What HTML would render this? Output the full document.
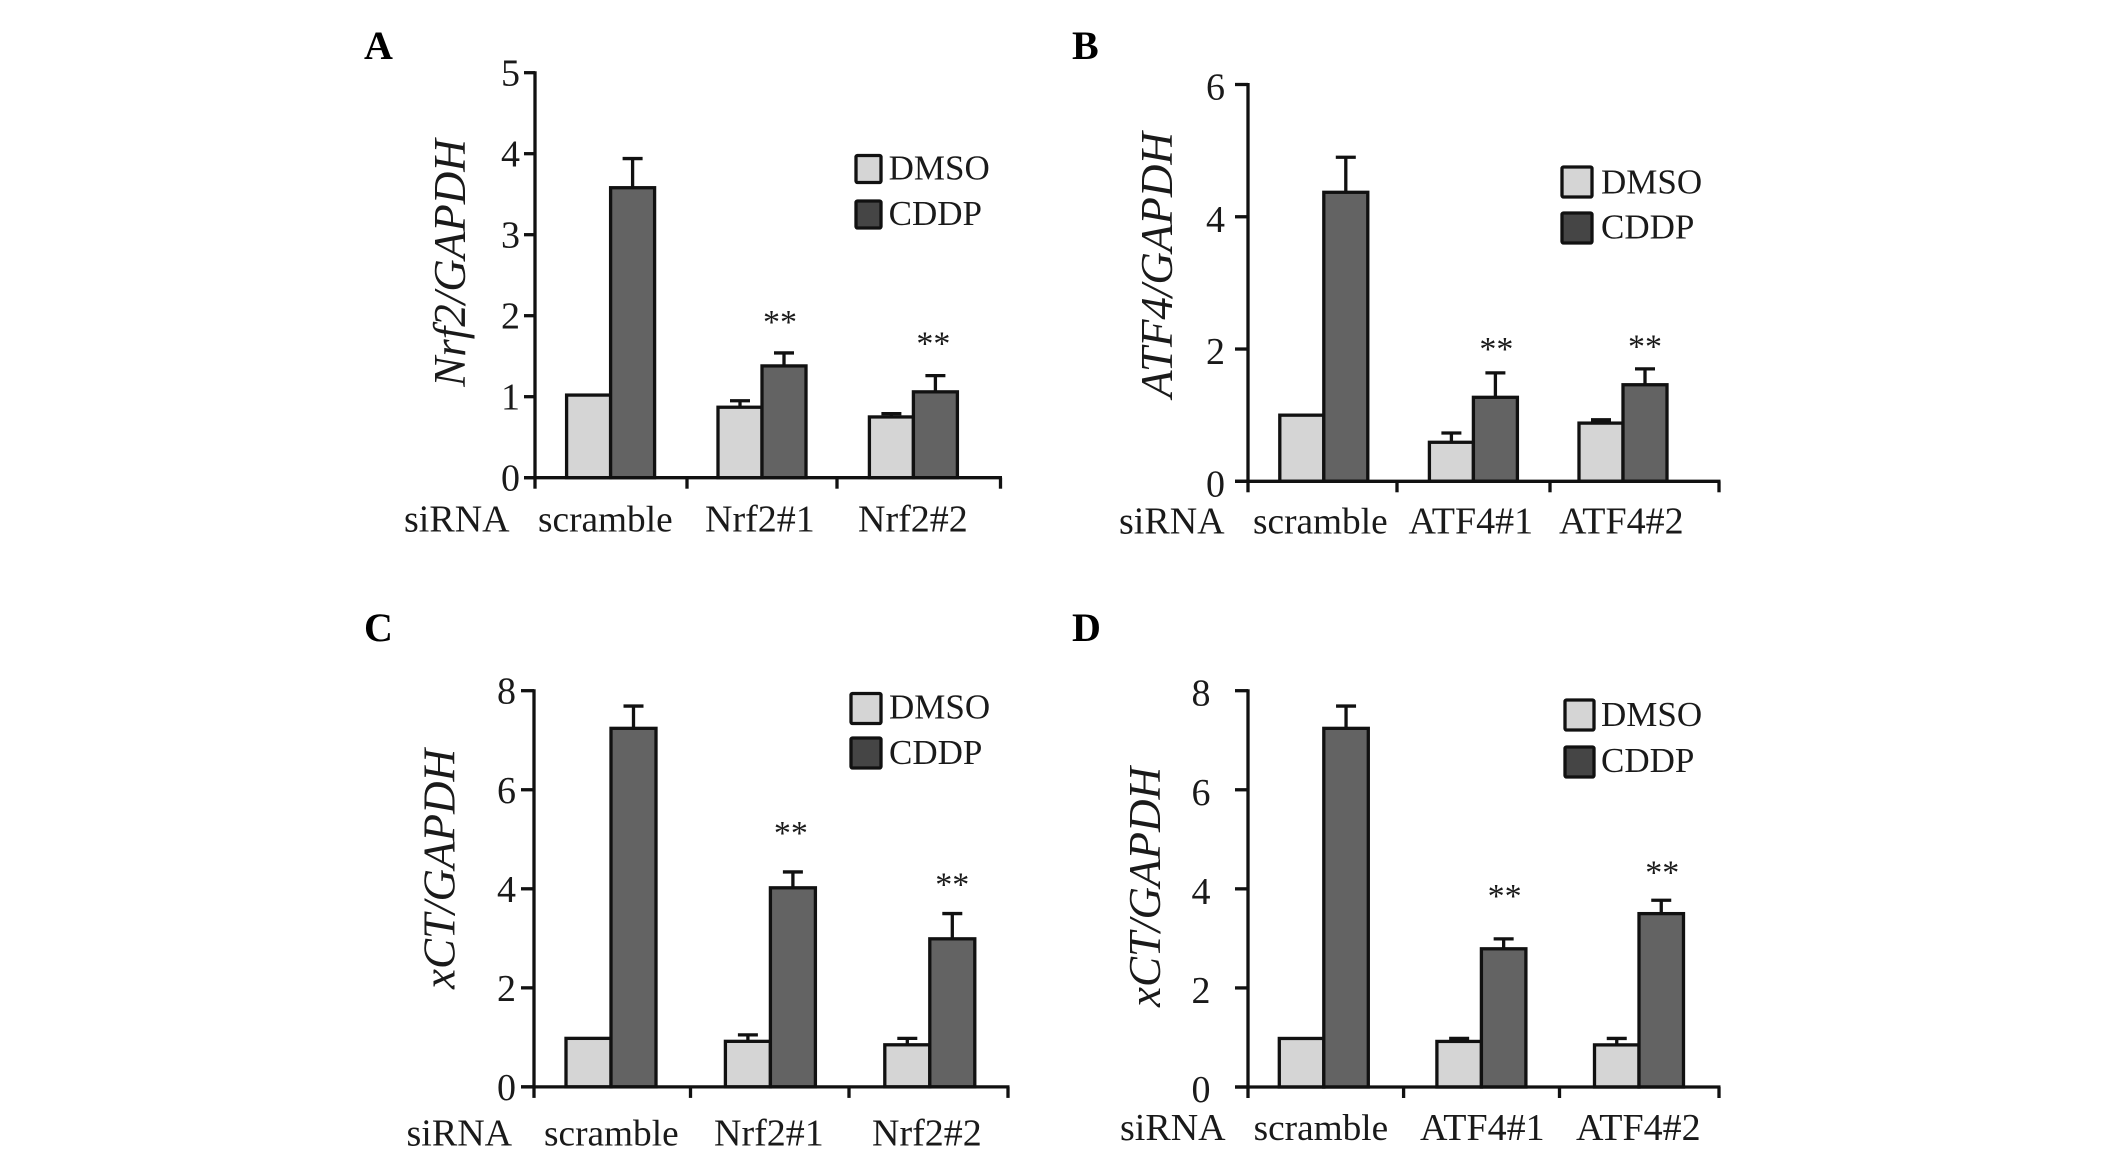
<!DOCTYPE html>
<html lang="en">
<head>
<meta charset="utf-8">
<title>siRNA knockdown bar charts</title>
<style>
html,body{margin:0;padding:0;background:#fff;}
svg{display:block;font-family:"Liberation Serif","Times New Roman",serif;fill:#1a1a1a;}
</style>
</head>
<body>
<svg id="figure" width="2126" height="1154" viewBox="0 0 2126 1154" xmlns="http://www.w3.org/2000/svg"></svg>
<script>
const seriesNames = ['DMSO', 'CDDP'];

const categoriesA = ['scramble', 'Nrf2#1', 'Nrf2#2'];
const ticksA = [0, 1, 2, 3, 4, 5];
const dmsoA = [1.02, 0.87, 0.75];
const cddpA = [3.58, 1.38, 1.06];
const dmsoTopA = [null, 0.95, 0.79];
const cddpTopA = [3.94, 1.54, 1.26];
const sigLevelA = [null, 1.9, 1.63];

const categoriesB = ['scramble', 'ATF4#1', 'ATF4#2'];
const ticksB = [0, 2, 4, 6];
const dmsoB = [1.0, 0.59, 0.88];
const cddpB = [4.37, 1.27, 1.46];
const dmsoTopB = [null, 0.73, 0.93];
const cddpTopB = [4.9, 1.64, 1.7];
const sigLevelB = [null, 1.97, 2.01];

const categoriesC = ['scramble', 'Nrf2#1', 'Nrf2#2'];
const ticksC = [0, 2, 4, 6, 8];
const dmsoC = [0.98, 0.92, 0.85];
const cddpC = [7.24, 4.02, 2.99];
const dmsoTopC = [null, 1.05, 0.98];
const cddpTopC = [7.69, 4.34, 3.5];
const sigLevelC = [null, 5.09, 4.05];

const categoriesD = ['scramble', 'ATF4#1', 'ATF4#2'];
const ticksD = [0, 2, 4, 6, 8];
const dmsoD = [0.98, 0.92, 0.85];
const cddpD = [7.24, 2.79, 3.5];
const dmsoTopD = [null, 0.98, 0.98];
const cddpTopD = [7.69, 2.99, 3.77];
const sigLevelD = [null, 3.82, 4.29];

const SVGNS = 'http://www.w3.org/2000/svg';
const root = document.getElementById('figure');
const INK = '#111111';
const LINE = 3.3;

function make(tag, attrs, parent) {
  const node = document.createElementNS(SVGNS, tag);
  for (const key in attrs) node.setAttribute(key, attrs[key]);
  parent.appendChild(node);
  return node;
}

function drawPanel(p) {
  const group = make('g', {}, root);
  
  

  const yMax = p.ticks[p.ticks.length - 1];
  const yScale = v => p.y0 - (v / yMax) * (p.y0 - p.yTop);
  const pairCenter = i => p.pairFirst + p.pairStep * i;

  // panel letter
  const letter = make('text', {x: p.letterX, y: p.letterY, 'font-size': 40, 'font-weight': 'bold', fill: '#000'}, group);
  letter.textContent = p.letter;
  
  

  // y axis title
  const yt = make('text', {
    transform: 'translate(' + p.yTitleX + ',' + p.yTitleY + ') rotate(-90)',
    'text-anchor': 'middle', 'font-size': 45, 'font-style': 'italic'
  }, group);
  yt.textContent = p.yTitle;
  
  

  // bars and error bars
  const drawSeries = (values, tops, side, fill, label) => {
    values.forEach((v, i) => {
      const cx = pairCenter(i);
      const x = side === 0 ? cx - p.barW : cx;
      const mid = x + p.barW / 2;
      if (tops[i] !== null) {
        const stem = make('line', {x1: mid, x2: mid, y1: yScale(v), y2: yScale(tops[i]), stroke: INK, 'stroke-width': LINE}, group);
        
        
        const cap = make('line', {x1: mid - 10, x2: mid + 10, y1: yScale(tops[i]), y2: yScale(tops[i]), stroke: INK, 'stroke-width': LINE}, group);
        
        
      }
      const bar = make('rect', {x: x, y: yScale(v), width: p.barW, height: p.y0 - yScale(v), fill: fill, stroke: INK, 'stroke-width': LINE}, group);
      
      
    });
  };
  drawSeries(p.dmso, p.dmsoTop, 0, '#d5d5d5', 'dmso');
  drawSeries(p.cddp, p.cddpTop, 1, '#636363', 'cddp');

  // significance marks
  p.sig.forEach((level, i) => {
    if (level === null) return;
    const s = make('text', {x: pairCenter(i) + p.barW / 2 - 2 + p.starNudge[i], y: yScale(level) + 9, 'text-anchor': 'middle', 'font-size': 34}, group);
    s.textContent = '**';
    
    
  });

  // y axis
  const yAxis = make('line', {x1: p.axisX, x2: p.axisX, y1: p.yTop - 1.5, y2: p.y0 + 1.5, stroke: INK, 'stroke-width': LINE}, group);
  
  
  p.ticks.forEach(t => {
    const mark = make('line', {x1: p.axisX - p.tickLen, x2: p.axisX, y1: yScale(t), y2: yScale(t), stroke: INK, 'stroke-width': LINE}, group);
    
    
    const lab = make('text', {x: p.tickRight, y: yScale(t) + p.tickDy, 'text-anchor': 'end', 'font-size': 38}, group);
    lab.textContent = String(t);
    
    
  });

  // x axis
  const xAxis = make('line', {x1: p.axisX - p.tickLen, x2: p.xEdges[p.xEdges.length - 1] + 1.5, y1: p.y0, y2: p.y0, stroke: INK, 'stroke-width': LINE}, group);
  
  
  p.xEdges.forEach(x => {
    const mark = make('line', {x1: x, x2: x, y1: p.y0, y2: p.y0 + 11, stroke: INK, 'stroke-width': LINE}, group);
    
    
  });
  const si = make('text', {x: p.siRnaX, y: p.labelY, 'font-size': 38}, group);
  si.textContent = 'siRNA';
  
  
  p.categories.forEach((c, i) => {
    const lab = make('text', {x: p.labelX[i], y: p.labelY, 'font-size': i === 0 ? 37.3 : 38}, group);
    lab.textContent = c;
    
    
  });

  // legend
  seriesNames.forEach((name, i) => {
    const box = make('rect', {
      x: p.legX, y: p.legY[i], width: p.legW, height: p.legH,
      fill: i === 0 ? '#d5d5d5' : '#454545', stroke: INK, 'stroke-width': LINE, rx: 1.5
    }, group);
    
    
    const txt = make('text', {x: p.legTextX, y: p.legTextY[i], 'font-size': 35}, group);
    txt.textContent = name;
    
    
  });
}

drawPanel({
  letter: 'A', letterX: 364, letterY: 59, yTitle: 'Nrf2/GAPDH', yTitleX: 465, yTitleY: 263,
  categories: categoriesA, ticks: ticksA, dmso: dmsoA, cddp: cddpA, dmsoTop: dmsoTopA, cddpTop: cddpTopA, sig: sigLevelA,
  axisX: 535, yTop: 72.7, y0: 477.7, tickLen: 11, tickRight: 520, tickDy: 13, starNudge: [0, -2, 0],
  xEdges: [535, 687, 837, 1000.5], pairFirst: 610.6, pairStep: 151.4, barW: 44,
  siRnaX: 404, labelX: [538, 705, 858], labelY: 531.4,
  legX: 856, legW: 25, legH: 27, legY: [155.5, 201], legTextX: 888.6, legTextY: [179.5, 225]
});
drawPanel({
  letter: 'B', letterX: 1072, letterY: 59, yTitle: 'ATF4/GAPDH', yTitleX: 1172, yTitleY: 265,
  categories: categoriesB, ticks: ticksB, dmso: dmsoB, cddp: cddpB, dmsoTop: dmsoTopB, cddpTop: cddpTopB, sig: sigLevelB,
  axisX: 1248, yTop: 84.5, y0: 481.3, tickLen: 13, tickRight: 1225, tickDy: 15, starNudge: [0, 3, 2],
  xEdges: [1248, 1397, 1550, 1719], pairFirst: 1323.8, pairStep: 149.6, barW: 44,
  siRnaX: 1119, labelX: [1253, 1408.5, 1559], labelY: 533.4,
  legX: 1562, legW: 30, legH: 30, legY: [167, 213], legTextX: 1601, legTextY: [193.5, 238.6]
});
drawPanel({
  letter: 'C', letterX: 364, letterY: 641, yTitle: 'xCT/GAPDH', yTitleX: 454.7, yTitleY: 869,
  categories: categoriesC, ticks: ticksC, dmso: dmsoC, cddp: cddpC, dmsoTop: dmsoTopC, cddpTop: cddpTopC, sig: sigLevelC,
  axisX: 534, yTop: 690.7, y0: 1086.9, tickLen: 13, tickRight: 516, tickDy: 13, starNudge: [0, 0, 2],
  xEdges: [534, 690.5, 849, 1008], pairFirst: 611, pairStep: 159.4, barW: 45,
  siRnaX: 406.5, labelX: [544, 714, 872], labelY: 1145.4,
  legX: 851, legW: 30, legH: 30, legY: [693.5, 738], legTextX: 889, legTextY: [718.5, 763.8]
});
drawPanel({
  letter: 'D', letterX: 1072, letterY: 641, yTitle: 'xCT/GAPDH', yTitleX: 1160, yTitleY: 887,
  categories: categoriesD, ticks: ticksD, dmso: dmsoD, cddp: cddpD, dmsoTop: dmsoTopD, cddpTop: cddpTopD, sig: sigLevelD,
  axisX: 1248, yTop: 690.7, y0: 1087, tickLen: 13, tickRight: 1210.5, tickDy: 15, starNudge: [0, 3, 3],
  xEdges: [1248, 1403.6, 1559.5, 1719], pairFirst: 1323.8, pairStep: 157.6, barW: 44.5,
  siRnaX: 1120, labelX: [1253.6, 1420, 1576], labelY: 1140,
  legX: 1565, legW: 29, legH: 30, legY: [700, 747], legTextX: 1601, legTextY: [726, 772]
});
</script>
</body>
</html>
